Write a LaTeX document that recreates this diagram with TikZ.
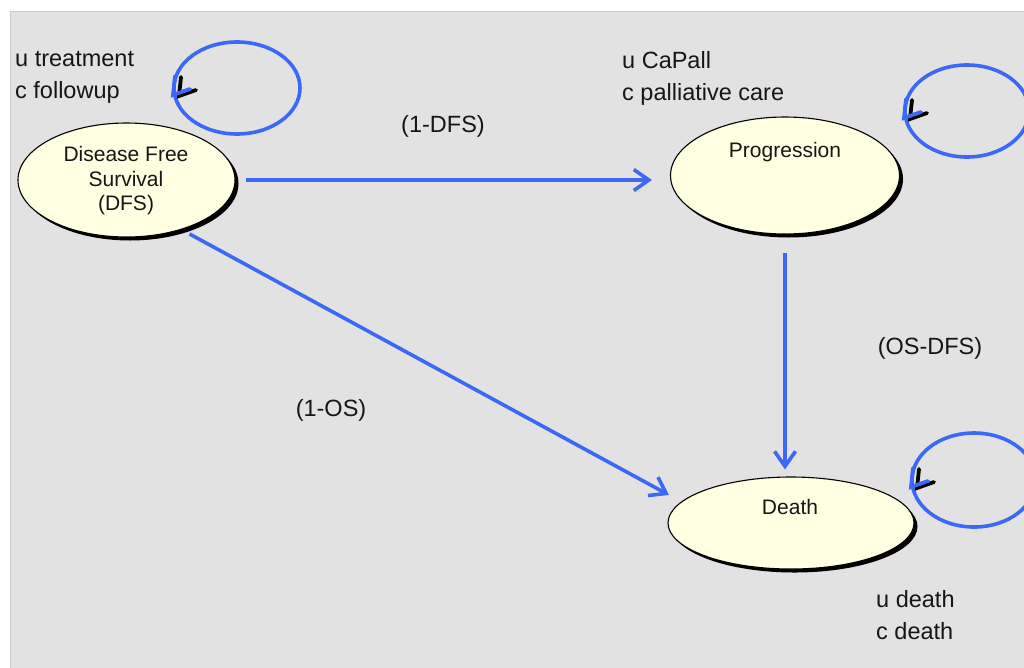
\documentclass[tikz,border=0pt]{standalone}
\usepackage{fontspec}
\setmainfont{Liberation Sans}
\usetikzlibrary{arrows.meta,shapes.geometric,shadows}
\definecolor{flowblue}{RGB}{59,105,245}
\definecolor{panel}{RGB}{226,226,226}
\definecolor{paneledge}{RGB}{205,205,205}
\definecolor{statefill}{RGB}{255,255,226}
\definecolor{ink}{RGB}{22,22,22}
\begin{document}
\begin{tikzpicture}[x=1pt,y=-1pt,
  tipshape/.tip={Straight Barb[length=15pt,width=21pt,line width=3.6pt]},
  state/.style={ellipse, draw=black, line width=1.1pt, fill=statefill, inner sep=0pt,
    drop shadow={shadow xshift=3.5pt, shadow yshift=-3.5pt, fill=black, opacity=1}},
  statetext/.style={text=ink, inner sep=0pt, align=center, font=\fontsize{21}{24.5}\selectfont},
  note/.style={text=ink, inner sep=0pt, align=left, anchor=west, font=\fontsize{23.5}{31.5}\selectfont},
  rate/.style={text=ink, inner sep=0pt, font=\fontsize{23.5}{28}\selectfont},
  flow/.style={draw=flowblue, line width=3.6pt, -{tipshape}},
  loop/.style={draw=flowblue, line width=3.6pt},
  loophead/.style={draw=flowblue, line width=3.8pt, line cap=round, line join=miter},
  loopshade/.style={draw=black, line width=3.8pt, line cap=round, line join=miter},
]
\useasboundingbox (0,0) rectangle (1024,667);
% panel
\fill[white] (0,0) rectangle (1024,667);
\filldraw[fill=panel, draw=paneledge, line width=1pt] (10.5,11.5) rectangle (1040,690);

% states
\node[state, minimum width=217, minimum height=114] (dfs) at (126.5,180) {};
\node[state, minimum width=229, minimum height=117] (prog) at (785,175.5) {};
\node[state, minimum width=246, minimum height=92] (death) at (791,523) {};

\node[statetext] (dfslabel) at (126,181) {Disease Free\\Survival\\(DFS)};
\node[statetext] (proglabel) at (785,152) {Progression};
\node[statetext] (deathlabel) at (790,507) {Death};

% utilities and costs
\node[note] (dfsnote) at (15,77.5) {u treatment\\c followup};
\node[note] (prognote) at (622,78.5) {u CaPall\\c palliative care};
\node[note] (deathnote) at (876,615) {u death\\c death};

% transitions
\draw[flow, shorten <=10pt, shorten >=18pt] (dfs.east) -- (dfs.east -| prog.west);
\draw[flow, shorten <=18pt, shorten >=7pt] (prog.south) -- (prog.south |- death.north);
\draw[flow, shorten <=9pt, shorten >=14pt] (dfs.-42) -- (death.169);

\node[rate] (r1) at (443,126) {(1-DFS)};
\node[rate] (r2) at (930,348) {(OS-DFS)};
\node[rate] (r3) at (331,410) {(1-OS)};

% self transitions: a loop with a chevron head on its left side
\foreach \name/\cx/\cy/\rx/\ry in {dfsloop/237/88/63/46, progloop/967/111/62/46, deathloop/974/480/62/47}{
  \coordinate (\name) at (\cx,\cy);
  \draw[loop] (\name) ellipse [x radius=\rx, y radius=\ry];
  \draw[loopshade] ([shift={(6,1)}]\name) ++(-\rx+1,-12) -- ++(-2,19) -- ++(17,-6);
  \draw[loophead] (\name) ++(-\rx+1,-12) -- ++(-2,19) -- ++(17,-6);
}
\end{tikzpicture}
\end{document}
